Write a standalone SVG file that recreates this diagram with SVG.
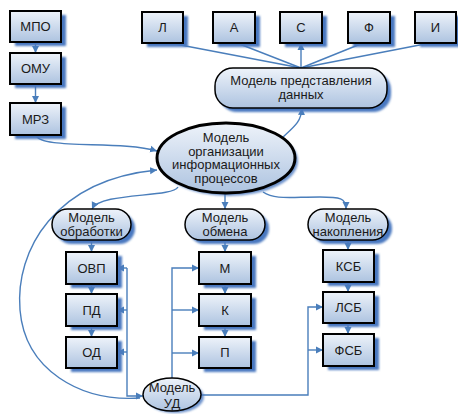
<svg xmlns="http://www.w3.org/2000/svg" width="458" height="414" viewBox="0 0 458 414">
<defs>
<linearGradient id="g" x1="0" y1="0" x2="0" y2="1">
<stop offset="0" stop-color="#eef3fa"/>
<stop offset="1" stop-color="#adc3e0"/>
</linearGradient>
<filter id="blur" x="-20%" y="-20%" width="140%" height="140%"><feGaussianBlur stdDeviation="0.8"/></filter>
<marker id="ah" markerWidth="8" markerHeight="8" refX="7" refY="4" orient="auto" markerUnits="userSpaceOnUse">
<path d="M0,0.5 L7,4 L0,7.5 Z" fill="#4a7ebb"/>
</marker>
</defs>
<style>
.sh{fill:#4a78c0;filter:url(#blur)}
.bx{fill:url(#g);stroke:#000;stroke-width:2}
.pl{fill:url(#g);stroke:#000;stroke-width:1.5}
.t{font-family:"Liberation Sans",Arial,sans-serif;font-size:13px;fill:#1a1a1a;text-anchor:middle}
.c{fill:none;stroke:#4a7ebb;stroke-width:1.4}
.a{marker-end:url(#ah)}
</style>
<rect width="458" height="414" fill="#fff"/>

<g id="connectors">
<path class="c a" d="M35.5 42 L35.5 53"/>
<path class="c a" d="M35.5 84 L35.5 103"/>
<path class="c a" d="M36 135 C40 150 120 140 157 151"/>
<path class="c a" d="M282 138 C295 126 301 122 302 108"/>
<path class="c" d="M301 68 L170 43"/>
<path class="c" d="M301 68 L237 43"/>
<path class="c a" d="M301 68 L301 43"/>
<path class="c" d="M301 68 L363 43"/>
<path class="c" d="M301 68 L430 43"/>
<path class="c a" d="M178 187 C172 198 100 192 92 209"/>
<path class="c a" d="M225 193 L225 209"/>
<path class="c a" d="M263 192 C275 200 290 197 320 197 C340 197 346 198 346 209"/>
<path class="c a" d="M91.5 240 L91.5 252"/>
<path class="c a" d="M91.5 284 L91.5 294"/>
<path class="c a" d="M91.5 326 L91.5 337"/>
<path class="c a" d="M225 240 L225 252"/>
<path class="c a" d="M225 284 L225 294"/>
<path class="c a" d="M225 326 L225 337"/>
<path class="c a" d="M348 240 L348 250"/>
<path class="c a" d="M348 282 L348 292"/>
<path class="c a" d="M348 323 L348 334"/>
<path class="c a" d="M127 268 L127 396 L143 396"/>
<path class="c a" d="M127 268 L117 268"/>
<path class="c a" d="M127 310 L117 310"/>
<path class="c a" d="M127 352 L117 352"/>
<path class="c a" d="M172 378 L172 268 L199 268"/>
<path class="c a" d="M172 310 L199 310"/>
<path class="c a" d="M172 353 L199 353"/>
<path class="c a" d="M201 395 L308 395 L308 307 L323 307"/>
<path class="c a" d="M308 350 L323 350"/>
<path class="c a" d="M140 398 C80 402 25 370 20 310 C15 250 55 180 157 170"/>
</g>

<g id="n-mpo"><rect class="sh" x="15" y="15" width="51" height="31"/><rect class="bx" x="10" y="11" width="51" height="31"/><text class="t" x="35.5" y="31">МПО</text></g>
<g id="n-omu"><rect class="sh" x="15" y="57" width="51" height="31"/><rect class="bx" x="10" y="53" width="51" height="31"/><text class="t" x="35.5" y="73">ОМУ</text></g>
<g id="n-mrz"><rect class="sh" x="15" y="107" width="51" height="32"/><rect class="bx" x="10" y="103" width="51" height="32"/><text class="t" x="35.5" y="123.5">МРЗ</text></g>

<g id="n-l"><rect class="sh" x="147" y="16" width="41" height="31"/><rect class="bx" x="142" y="12" width="41" height="31"/><text class="t" x="162.5" y="32">Л</text></g>
<g id="n-a"><rect class="sh" x="218" y="16" width="42" height="31"/><rect class="bx" x="213" y="12" width="42" height="31"/><text class="t" x="234" y="32">А</text></g>
<g id="n-s"><rect class="sh" x="285" y="16" width="42" height="31"/><rect class="bx" x="280" y="12" width="42" height="31"/><text class="t" x="301" y="32">С</text></g>
<g id="n-f"><rect class="sh" x="353" y="16" width="42" height="31"/><rect class="bx" x="348" y="12" width="42" height="31"/><text class="t" x="369" y="32">Ф</text></g>
<g id="n-i"><rect class="sh" x="420" y="16" width="41" height="31"/><rect class="bx" x="415" y="12" width="41" height="31"/><text class="t" x="435.5" y="32">И</text></g>

<g id="n-mpd"><rect class="sh" x="219" y="72" width="172" height="40" rx="18"/><rect class="pl" x="215" y="68" width="172" height="40" rx="18"/><text class="t" x="301" y="85">Модель представления</text><text class="t" x="301" y="99">данных</text></g>

<g id="n-moip"><ellipse class="sh" cx="229" cy="161" rx="69" ry="35" opacity="0.8"/><ellipse cx="226" cy="158" rx="69" ry="35" fill="url(#g)" stroke="#000" stroke-width="3"/><text class="t" x="226" y="142">Модель</text><text class="t" x="226" y="155.5">организации</text><text class="t" x="226" y="169">информационных</text><text class="t" x="226" y="182.5">процессов</text></g>

<g id="n-mobr"><rect class="sh" x="56" y="213" width="79" height="31" rx="15.5"/><rect class="pl" x="52" y="209" width="79" height="31" rx="15.5"/><text class="t" x="91.5" y="222">Модель</text><text class="t" x="91.5" y="236">обработки</text></g>
<g id="n-mobm"><rect class="sh" x="189" y="213" width="80" height="31" rx="15.5"/><rect class="pl" x="185" y="209" width="80" height="31" rx="15.5"/><text class="t" x="225" y="222">Модель</text><text class="t" x="225" y="236">обмена</text></g>
<g id="n-mnak"><rect class="sh" x="312" y="213" width="80" height="31" rx="15.5"/><rect class="pl" x="308" y="209" width="80" height="31" rx="15.5"/><text class="t" x="348" y="222">Модель</text><text class="t" x="348" y="236">накопления</text></g>

<g id="n-ovp"><rect class="sh" x="71" y="256" width="51" height="32"/><rect class="bx" x="66" y="252" width="51" height="32"/><text class="t" x="91.5" y="272.5">ОВП</text></g>
<g id="n-pd"><rect class="sh" x="71" y="298" width="51" height="32"/><rect class="bx" x="66" y="294" width="51" height="32"/><text class="t" x="91.5" y="314.5">ПД</text></g>
<g id="n-od"><rect class="sh" x="71" y="341" width="51" height="31"/><rect class="bx" x="66" y="337" width="51" height="31"/><text class="t" x="91.5" y="357">ОД</text></g>

<g id="n-m"><rect class="sh" x="204" y="256" width="52" height="32"/><rect class="bx" x="199" y="252" width="52" height="32"/><text class="t" x="225" y="272.5">М</text></g>
<g id="n-k"><rect class="sh" x="204" y="298" width="52" height="32"/><rect class="bx" x="199" y="294" width="52" height="32"/><text class="t" x="225" y="314.5">К</text></g>
<g id="n-p"><rect class="sh" x="204" y="341" width="52" height="31"/><rect class="bx" x="199" y="337" width="52" height="31"/><text class="t" x="225" y="357">П</text></g>

<g id="n-ksb"><rect class="sh" x="328" y="254" width="51" height="32"/><rect class="bx" x="323" y="250" width="51" height="32"/><text class="t" x="348.5" y="270.5">КСБ</text></g>
<g id="n-lsb"><rect class="sh" x="328" y="296" width="51" height="31"/><rect class="bx" x="323" y="292" width="51" height="31"/><text class="t" x="348.5" y="312">ЛСБ</text></g>
<g id="n-fsb"><rect class="sh" x="328" y="338" width="51" height="32"/><rect class="bx" x="323" y="334" width="51" height="32"/><text class="t" x="348.5" y="354.5">ФСБ</text></g>

<g id="n-ud"><ellipse class="sh" cx="175" cy="397" rx="29" ry="16" opacity="0.8"/><ellipse cx="172" cy="394.5" rx="29" ry="16.5" fill="url(#g)" stroke="#000" stroke-width="1.5"/><text class="t" x="172" y="391.5">Модель</text><text class="t" x="172" y="407.5">УД</text></g>
</svg>
